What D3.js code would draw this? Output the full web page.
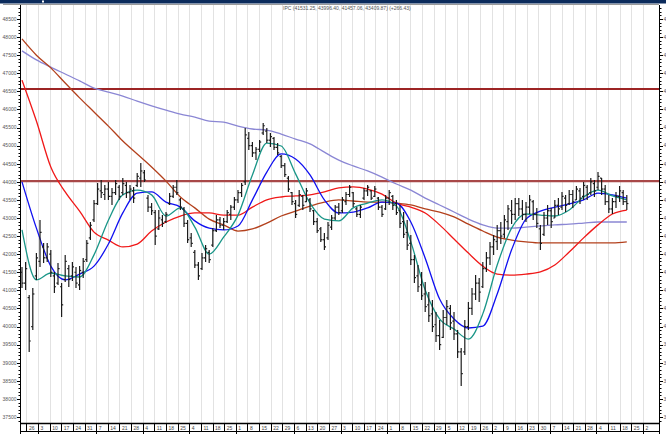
<!DOCTYPE html>
<html>
<head>
<meta charset="utf-8">
<script src="https://cdn.jsdelivr.net/npm/d3@7"></script>
<style>
  body { margin: 0; background: #fff; }
  svg { display: block; }
  text { font-family: "Liberation Sans", Arial, sans-serif; }
</style>
</head>
<body>
<div id="chart"></div>
<script>
// OHLC bars (IPC)
const highs = [41645, 41783, 40871, 41065, 42032, 42944, 42308, 42308, 42115, 41507,
  41756, 41203, 41977, 41700, 41783, 41645, 41673, 41894, 42391, 42889,
  43497, 43967, 44050, 43912, 43995, 43829, 44050, 43912, 44105, 43995,
  43912, 43856, 44243, 44520, 44326, 43635, 43414, 43221, 43221, 43082,
  43165, 43690, 43912, 44050, 43552, 43304, 42944, 42585, 42115, 41783,
  42032, 42253, 42115, 42723, 43082, 43027, 42999, 43221, 43359, 43580,
  43773, 43967, 45487, 45377, 45100, 44962, 45155, 45625, 45487, 45349,
  45238, 45072, 44741, 44520, 44160, 43718, 43497, 43773, 43635, 43829,
  43552, 43221, 42999, 42751, 42585, 42889, 43082, 43359, 43414, 43580,
  43718, 43912, 43718, 43304, 43359, 43829, 43912, 43773, 43884, 43580,
  43359, 43635, 43773, 43635, 43497, 43359, 43165, 42944, 42530, 41977,
  41700, 41507, 41231, 40954, 40733, 40401, 40180, 40457, 40733, 40595,
  40401, 39904, 39406, 40180, 40678, 41065, 41424, 41341, 41783, 42060,
  42336, 42530, 42806, 42889, 43082, 43359, 43497, 43552, 43552, 43497,
  43442, 43635, 43497, 43276, 42806, 43165, 43359, 43276, 43497, 43552,
  43718, 43635, 43773, 43773, 43884, 43829, 43995, 43912, 44105, 44050,
  44271, 44105, 43912, 43635, 43552, 43718, 43884, 43773, 43635];

const lows = [41065, 41009, 39296, 39904, 41286, 41645, 41756, 41783, 41369, 40926,
  41148, 40263, 41231, 41092, 41258, 41065, 41009, 41341, 41783, 42391,
  42889, 43359, 43552, 43497, 43497, 43359, 43635, 43497, 43635, 43552,
  43497, 43414, 43856, 43856, 43995, 43165, 43082, 42253, 42668, 42751,
  42861, 43359, 43552, 43635, 43221, 42751, 42308, 42198, 41617, 41286,
  41562, 41783, 41756, 42198, 42613, 42723, 42668, 42861, 42944, 43221,
  43414, 43580, 43912, 44879, 44686, 44603, 44824, 45294, 45072, 44962,
  44879, 44741, 44381, 44133, 43718, 43359, 42999, 43304, 43221, 43442,
  43165, 42806, 42585, 42336, 42115, 42391, 42668, 42944, 43082, 43138,
  43359, 43580, 43304, 43027, 42999, 43497, 43608, 43497, 43580, 43221,
  43027, 43221, 43359, 43221, 43082, 42723, 42447, 42115, 41700, 41203,
  40954, 40733, 40401, 40125, 39849, 39572, 39351, 39683, 40042, 39904,
  39627, 39130, 38356, 39213, 39904, 40318, 40733, 40678, 41065, 41507,
  41700, 41977, 42115, 42281, 42447, 42668, 42834, 42944, 43055, 42944,
  42889, 43110, 42944, 42723, 42115, 42502, 42806, 42723, 42999, 43082,
  43221, 43165, 43359, 43276, 43497, 43386, 43497, 43497, 43635, 43580,
  43773, 43635, 43359, 43138, 43110, 43276, 43442, 43359, 43221];

const opens = [41500, 41200, 40800, 40000, 41400, 41800, 42200, 41900, 42000, 41400,
  41200, 41100, 41300, 41600, 41400, 41500, 41150, 41500, 41850, 42450,
  42950, 43400, 43750, 43650, 43800, 43600, 43700, 43850, 43700, 43900,
  43700, 43750, 43900, 44100, 44250, 43550, 43300, 43150, 42700, 42950,
  42900, 43400, 43600, 43850, 43500, 43250, 42850, 42450, 42050, 41700,
  41600, 41900, 42050, 42250, 42650, 42950, 42800, 42900, 43100, 43300,
  43500, 43700, 44000, 45200, 45000, 44800, 44900, 45350, 45400, 45150,
  45200, 44950, 44700, 44450, 44100, 43700, 43400, 43350, 43600, 43450,
  43500, 43200, 42900, 42700, 42400, 42450, 42750, 43000, 43300, 43200,
  43450, 43650, 43700, 43250, 43100, 43550, 43750, 43750, 43600, 43550,
  43300, 43250, 43550, 43600, 43400, 43200, 42900, 42600, 42300, 41850,
  41400, 41150, 40900, 40600, 40350, 40050, 39750, 39700, 40250, 40500,
  40150, 39800, 39300, 39300, 40000, 40500, 40900, 41200, 41100, 41600,
  41900, 42200, 42350, 42650, 42550, 42900, 43200, 43100, 43400, 43250,
  43100, 43300, 43450, 43100, 42700, 42550, 43000, 43200, 43000, 43350,
  43300, 43550, 43400, 43650, 43500, 43750, 43600, 43850, 43700, 43950,
  43850, 44100, 43800, 43450, 43250, 43450, 43600, 43700, 43450];

const closes = [41200, 41600, 39600, 40900, 41900, 42600, 41900, 42200, 41500, 41100,
  41600, 40600, 41800, 41300, 41650, 41200, 41550, 41800, 42300, 42800,
  43400, 43800, 43700, 43800, 43600, 43700, 43950, 43600, 43950, 43700,
  43800, 43550, 44150, 44300, 44050, 43300, 43200, 42500, 43000, 42850,
  43100, 43600, 43850, 43700, 43300, 42850, 42400, 42300, 41700, 41400,
  41900, 42150, 41850, 42650, 42950, 42800, 42900, 43150, 43300, 43500,
  43700, 43900, 45300, 45000, 44800, 44900, 45100, 45550, 45150, 45250,
  44950, 44800, 44450, 44200, 43800, 43450, 43100, 43650, 43350, 43750,
  43250, 42900, 42650, 42400, 42200, 42800, 43000, 43300, 43150, 43500,
  43650, 43850, 43400, 43100, 43300, 43750, 43850, 43550, 43800, 43300,
  43100, 43550, 43700, 43350, 43150, 42850, 42550, 42250, 41850, 41350,
  41100, 40850, 40550, 40300, 40000, 39750, 39500, 40250, 40550, 40100,
  39800, 39300, 38700, 40000, 40500, 40900, 41200, 40950, 41600, 41900,
  42200, 42400, 42650, 42500, 42950, 43250, 43100, 43400, 43250, 43100,
  43300, 43500, 43100, 42850, 42300, 43000, 43200, 42900, 43350, 43250,
  43600, 43350, 43650, 43450, 43800, 43550, 43900, 43650, 44000, 43750,
  44150, 43800, 43450, 43250, 43450, 43600, 43750, 43450, 43400];

// moving averages, sampled at these bar indices
const maIndex = [0, 4, 8, 12, 16, 20, 24, 28, 32, 36, 40, 44, 48, 52, 56, 60, 64, 68, 72, 76,
  80, 84, 88, 92, 96, 100, 104, 108, 112, 116, 120, 124, 128, 132, 136, 140, 144, 148,
  152, 156, 160, 164, 168];

const ma10 = [42670, 41290, 41480, 41400, 41370, 41980, 42940, 43640, 43770, 43640,
  43055, 43280, 42750, 42000, 42470, 43080, 44190, 45070, 44990, 44220,
  43410, 42970, 42920, 43280, 43410, 43500, 43330, 42340, 41010, 40210,
  39930, 39655, 40350, 41700, 42720, 43110, 43080, 43055, 43220, 43580,
  43770, 43610, 43500];

const ma20 = [44000, 42720, 41670, 41290, 41450, 41670, 42280, 43140, 43690, 43720,
  43440, 43300, 42920, 42720, 42670, 42780, 43500, 44270, 44770, 44630,
  44190, 43500, 43140, 43165, 43280, 43440, 43410, 42890, 41890, 40760,
  40210, 39960, 40010, 40900, 42120, 42970, 43190, 43300, 43390, 43500,
  43690, 43640, 43550];

const ma50 = [46810, 45680, 44410, 43720, 43190, 42610, 42390, 42200, 42280, 42640,
  42890, 43055, 43140, 43140, 43080, 43080, 43300, 43500, 43580, 43610,
  43640, 43720, 43830, 43860, 43800, 43660, 43410, 43300, 43140, 42810,
  42420, 42030, 41670, 41450, 41420, 41450, 41510, 41700, 42060, 42450,
  42810, 43110, 43220];

const ma100 = [47950, 47500, 47150, 46730, 46320, 45930, 45540, 45130, 44770, 44410,
  44020, 43580, 43280, 42970, 42810, 42640, 42700, 42860, 43055, 43190,
  43330, 43440, 43500, 43470, 43440, 43440, 43410, 43360, 43250, 43165,
  43030, 42830, 42640, 42470, 42390, 42340, 42310, 42310, 42310, 42310,
  42310, 42310, 42340];

const ma200 = [47620, 47370, 47170, 46980, 46790, 46590, 46480, 46370, 46230, 46100,
  45980, 45870, 45790, 45680, 45650, 45540, 45460, 45430, 45320, 45180,
  45050, 44820, 44600, 44440, 44300, 44130, 43940, 43770, 43550, 43360,
  43165, 42970, 42810, 42720, 42720, 42750, 42780, 42810, 42830, 42860,
  42890, 42890, 42890];

// horizontal levels
const levels = [46565, 44020];
const levelColors = ["#9c2424", "#a84848"];

const monthNames = ["Dec", "Jan", "Feb", "Mar", "Apr", "May", "Jun", "Jul", "Aug", "Sep", "Oct", "Nov", "Dec"];
const titleText = "IPC (41531.25, 43996.40, 41457.06, 43409.87)  (+266.43)";

const width = 666, height = 434;
const plot = { left: 20, right: 659, top: 5, bottom: 423 };

const svg = d3.select("#chart").append("svg")
  .attr("width", width)
  .attr("height", height);

// top banner
svg.append("rect").attr("x", 0).attr("y", 0).attr("width", width).attr("height", 3.5).attr("fill", "#0b2b5c");
svg.append("rect").attr("x", 42).attr("y", 0.5).attr("width", 2).attr("height", 2).attr("fill", "#fff");
svg.append("line").attr("x1", 3).attr("x2", plot.right).attr("y1", 4.5).attr("y2", 4.5)
  .attr("stroke", "#9a9a9a").attr("stroke-width", 1);

const y = d3.scaleLinear().domain([37500, 48500]).range([417, 19]);
const xBar = d3.scaleLinear().domain([0, 168]).range([22, 626.8]);
const xDate = d3.scaleUtc()
  .domain([new Date(Date.UTC(2012, 10, 26)), new Date(Date.UTC(2013, 11, 2))])
  .range([26.4, 643]);

const weeks = d3.utcMonday.range(new Date(Date.UTC(2012, 10, 26)), new Date(Date.UTC(2013, 11, 3)));
const months = weeks.filter(d => d.getUTCDate() <= 7);

svg.append("defs").append("clipPath").attr("id", "clip")
  .append("rect")
  .attr("x", plot.left).attr("y", plot.top)
  .attr("width", plot.right - plot.left).attr("height", plot.bottom - plot.top);

// weekly grid
svg.append("g").selectAll("line").data(weeks).join("line")
  .attr("x1", d => Math.round(xDate(d)) + 0.5).attr("x2", d => Math.round(xDate(d)) + 0.5)
  .attr("y1", plot.top).attr("y2", plot.bottom)
  .attr("stroke", "#e2e2e2").attr("stroke-width", 1);

// title
svg.append("text").attr("x", 283).attr("y", 10)
  .attr("font-size", "5px").attr("fill", "#555")
  .text(titleText);

const body = svg.append("g").attr("clip-path", "url(#clip)");

// level lines
body.selectAll(".level").data(levels).join("line")
  .attr("class", "level")
  .attr("x1", plot.left).attr("x2", plot.right)
  .attr("y1", d => y(d)).attr("y2", d => y(d))
  .attr("stroke", (d, i) => levelColors[i]).attr("stroke-width", 2.2);

// moving averages
const maLine = d3.line()
  .x((d, i) => xBar(maIndex[i]))
  .y(d => y(d))
  .curve(d3.curveMonotoneX);

const maSeries = [
  { values: ma200, color: "#8a86d4" },
  { values: ma100, color: "#b3401c" },
  { values: ma50, color: "#f01818" },
  { values: ma20, color: "#1010f0" },
  { values: ma10, color: "#1a9688" }
];

body.selectAll(".ma").data(maSeries).join("path")
  .attr("class", "ma")
  .attr("d", d => maLine(d.values))
  .attr("fill", "none")
  .attr("stroke", d => d.color)
  .attr("stroke-width", 1.3);

// OHLC bars
const bars = body.selectAll(".bar").data(highs.map((h, i) => i)).join("g").attr("class", "bar")
  .attr("stroke", "#1c1c1c").attr("stroke-width", 1.2);

bars.append("line")
  .attr("x1", i => xBar(i)).attr("x2", i => xBar(i))
  .attr("y1", i => y(highs[i])).attr("y2", i => y(lows[i]));
bars.append("line")
  .attr("x1", i => xBar(i) - 1.6).attr("x2", i => xBar(i))
  .attr("y1", i => y(opens[i])).attr("y2", i => y(opens[i]));
bars.append("line")
  .attr("x1", i => xBar(i)).attr("x2", i => xBar(i) + 1.6)
  .attr("y1", i => y(closes[i])).attr("y2", i => y(closes[i]));

// y axes
const majorTicks = y.ticks(22);
const minorTicks = d3.range(37400, 48900, 100);

function drawYAxis(xPos, dir, withLabels) {
  const g = svg.append("g");
  g.append("line").attr("x1", xPos).attr("x2", xPos).attr("y1", plot.top).attr("y2", plot.bottom)
    .attr("stroke", "#000").attr("stroke-width", 1);
  g.selectAll(".minor").data(minorTicks.filter(v => y(v) > plot.top && y(v) < plot.bottom)).join("line")
    .attr("x1", xPos).attr("x2", xPos + dir * 2)
    .attr("y1", d => Math.round(y(d)) + 0.5).attr("y2", d => Math.round(y(d)) + 0.5)
    .attr("stroke", "#000");
  g.selectAll(".major").data(majorTicks).join("line")
    .attr("x1", xPos).attr("x2", xPos + dir * 3.5)
    .attr("y1", d => Math.round(y(d)) + 0.5).attr("y2", d => Math.round(y(d)) + 0.5)
    .attr("stroke", "#000");
  if (withLabels) {
    g.selectAll("text").data(majorTicks).join("text")
      .attr("x", dir < 0 ? xPos - 4 : xPos + 4)
      .attr("y", d => y(d) + 1.8)
      .attr("text-anchor", dir < 0 ? "end" : "start")
      .attr("font-size", "5px").attr("fill", "#555")
      .text(d => d3.format("d")(d));
  }
}
drawYAxis(plot.left + 0.5, -1, true);
drawYAxis(plot.right + 0.5, 1, true);

// x axis (two rows: week start day, month)
const xAxis = svg.append("g");
xAxis.append("line").attr("x1", plot.left).attr("x2", plot.right + 1).attr("y1", plot.bottom + 0.5).attr("y2", plot.bottom + 0.5)
  .attr("stroke", "#000").attr("stroke-width", 1.5);
xAxis.append("line").attr("x1", plot.left).attr("x2", plot.right + 1).attr("y1", 431.5).attr("y2", 431.5)
  .attr("stroke", "#000").attr("stroke-width", 1);
xAxis.selectAll(".wk").data(weeks).join("line")
  .attr("x1", d => Math.round(xDate(d)) + 0.5).attr("x2", d => Math.round(xDate(d)) + 0.5)
  .attr("y1", plot.bottom).attr("y2", 431.5)
  .attr("stroke", "#000");
xAxis.selectAll(".wkl").data(weeks).join("text")
  .attr("x", d => xDate(d) + 2.5).attr("y", 429.5)
  .attr("font-size", "5px").attr("fill", "#444")
  .text(d => d.getUTCDate());
xAxis.append("line").attr("x1", plot.left + 0.5).attr("x2", plot.left + 0.5).attr("y1", plot.bottom).attr("y2", height)
  .attr("stroke", "#000");
xAxis.append("line").attr("x1", plot.right + 0.5).attr("x2", plot.right + 0.5).attr("y1", plot.bottom).attr("y2", height)
  .attr("stroke", "#000");
xAxis.selectAll(".mo").data(months).join("line")
  .attr("x1", d => Math.round(xDate(d)) + 0.5).attr("x2", d => Math.round(xDate(d)) + 0.5)
  .attr("y1", 431.5).attr("y2", height)
  .attr("stroke", "#000");
xAxis.selectAll(".mol").data(months).join("text")
  .attr("x", d => xDate(d) + 3).attr("y", 437.5)
  .attr("font-size", "6px").attr("fill", "#444")
  .text((d, i) => monthNames[i]);
</script>
</body>
</html>
